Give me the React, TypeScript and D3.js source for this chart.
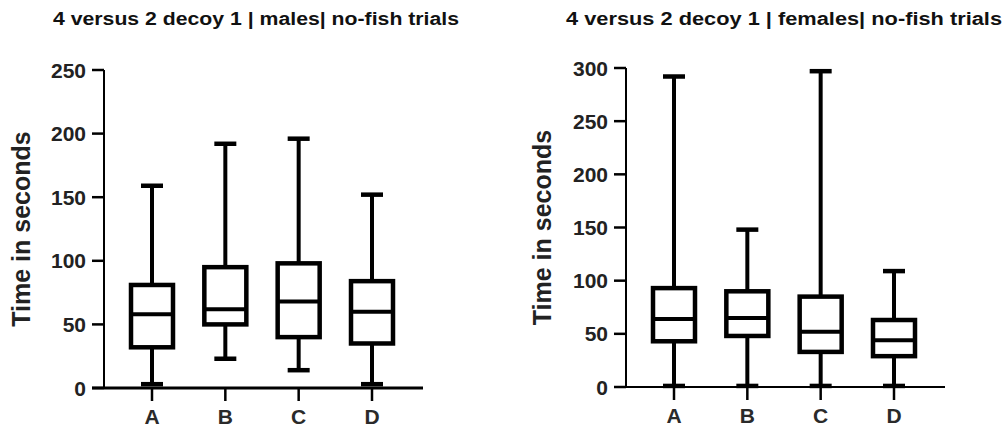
import React from "react";
import * as d3 from "d3";

const WIDTH = 1005;
const HEIGHT = 430;
const FONT = "'Liberation Sans', Arial, sans-serif";

const CATEGORIES = ["A", "B", "C", "D"];

// box stats: [min, q1, median, q3, max]
const MALES = [
  [3, 32, 58, 81, 159],
  [23, 50, 62, 95, 192],
  [14, 40, 68, 98, 196],
  [3, 35, 60, 84, 152],
];
const FEMALES = [
  [1, 43, 64, 93, 292],
  [1, 48, 65, 90, 148],
  [1, 33, 52, 85, 297],
  [1, 29, 44, 63, 109],
];

const MALE_TICKS = [0, 50, 100, 150, 200, 250];
const FEMALE_TICKS = [0, 50, 100, 150, 200, 250, 300];

const TITLES = [
  "4 versus 2 decoy 1 | males| no-fish trials",
  "4 versus 2 decoy 1 | females| no-fish trials",
];

type PanelProps = {
  title: string;
  titleX: number;
  titleLen: number;
  data: number[][];
  ticks: number[];
  axisX: number;
  yBottom: number;
  yTop: number;
  xRange: [number, number];
  axisEnd: number;
  yTitleX: number;
  xAxisWidth: number;
};

const BoxPanel = ({
  title,
  titleX,
  titleLen,
  data,
  ticks,
  axisX,
  yBottom,
  yTop,
  xRange,
  axisEnd,
  yTitleX,
  xAxisWidth,
}: PanelProps) => {
  const yMax = ticks[ticks.length - 1];
  const y = d3.scaleLinear().domain([0, yMax]).range([yBottom, yTop]);
  const x = d3.scalePoint<string>().domain(CATEGORIES).range(xRange);
  const boxW = 42;
  const capW = 22;
  const tickLen = 12;

  return (
    <g>
      <text
        x={titleX - titleLen / 2}
        y={25}
        textLength={titleLen}
        lengthAdjust="spacingAndGlyphs"
        fontFamily={FONT}
        fontWeight="bold"
        fontSize={18}
        fill="#111"
      >
        {title}
      </text>

      {/* y axis */}
      <line x1={axisX} x2={axisX} y1={y(yMax)} y2={yBottom} stroke="#000" strokeWidth={2} />
      {ticks.map((t) => (
        <g key={t}>
          <line
            x1={axisX - tickLen}
            x2={axisX}
            y1={y(t)}
            y2={y(t)}
            stroke="#000"
            strokeWidth={2.5}
          />
          <text
            x={axisX - tickLen - 6}
            y={y(t)}
            dy="0.36em"
            textAnchor="end"
            fontFamily={FONT}
            fontWeight="bold"
            fontSize={21}
            fill="#222"
          >
            {t}
          </text>
        </g>
      ))}
      <text
        transform={`translate(${yTitleX},${(yTop + yBottom) / 2}) rotate(-90)`}
        textAnchor="middle"
        dy="0.36em"
        fontFamily={FONT}
        fontWeight="bold"
        fontSize={25}
        fill="#222"
      >
        Time in seconds
      </text>

      {/* x axis */}
      <line
        x1={axisX - tickLen}
        x2={axisEnd}
        y1={yBottom}
        y2={yBottom}
        stroke="#000"
        strokeWidth={xAxisWidth}
      />
      {CATEGORIES.map((c) => (
        <g key={c}>
          <line x1={x(c)} x2={x(c)} y1={yBottom} y2={yBottom + 13} stroke="#000" strokeWidth={2.5} />
          <text
            x={x(c)}
            y={yBottom + 28}
            dy="0.36em"
            textAnchor="middle"
            fontFamily={FONT}
            fontWeight="bold"
            fontSize={21}
            fill="#2a2a2a"
          >
            {c}
          </text>
        </g>
      ))}

      {/* boxes */}
      {data.map((d, i) => {
        const cx = x(CATEGORIES[i]) as number;
        const [mn, q1, med, q3, mx] = d;
        return (
          <g key={i} stroke="#000" fill="none">
            <line x1={cx} x2={cx} y1={y(mx)} y2={y(q3)} strokeWidth={4} />
            <line x1={cx} x2={cx} y1={y(q1)} y2={y(mn)} strokeWidth={4} />
            <line x1={cx - capW / 2} x2={cx + capW / 2} y1={y(mx)} y2={y(mx)} strokeWidth={4.5} />
            <line x1={cx - capW / 2} x2={cx + capW / 2} y1={y(mn)} y2={y(mn)} strokeWidth={4.5} />
            <rect
              x={cx - boxW / 2}
              y={y(q3)}
              width={boxW}
              height={y(q1) - y(q3)}
              fill="#fff"
              strokeWidth={4.5}
            />
            <line x1={cx - boxW / 2} x2={cx + boxW / 2} y1={y(med)} y2={y(med)} strokeWidth={4} />
          </g>
        );
      })}
    </g>
  );
};

const App = () => {
  return (
    <svg
      width={WIDTH}
      height={HEIGHT}
      style={{ position: "absolute", left: 0, top: 0, background: "#fff" }}
    >
      <BoxPanel
        title={TITLES[0]}
        titleX={256}
        titleLen={406}
        data={MALES}
        ticks={MALE_TICKS}
        axisX={104}
        yBottom={388}
        yTop={70}
        xRange={[152, 372]}
        axisEnd={423}
        yTitleX={21}
        xAxisWidth={3}
      />
      <BoxPanel
        title={TITLES[1]}
        titleX={784}
        titleLen={436}
        data={FEMALES}
        ticks={FEMALE_TICKS}
        axisX={626}
        yBottom={387}
        yTop={68}
        xRange={[674, 894]}
        axisEnd={945}
        yTitleX={542}
        xAxisWidth={2}
      />
    </svg>
  );
};

export default App;
